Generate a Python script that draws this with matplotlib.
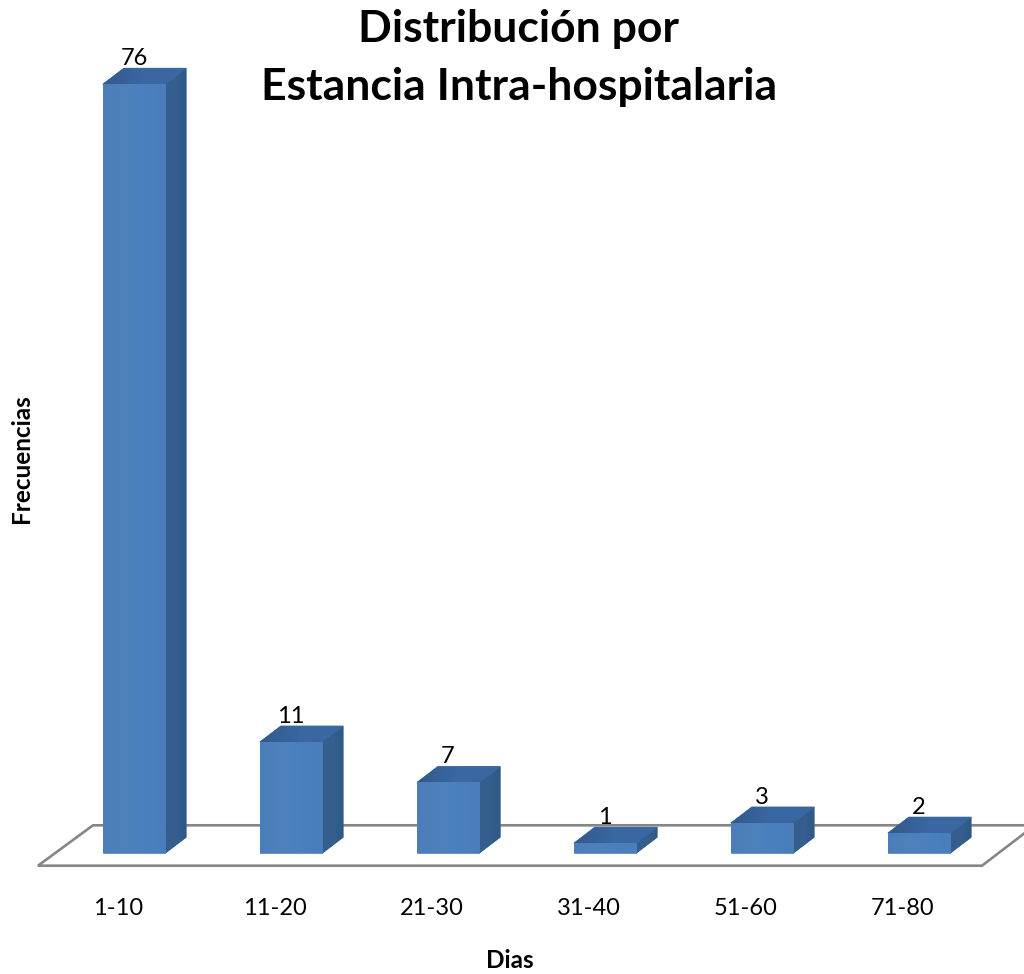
import numpy as np
import matplotlib
matplotlib.use("Agg")
import matplotlib.pyplot as plt
from matplotlib.patches import Polygon

plt.rcParams['font.family'] = ['Lato', 'DejaVu Sans']

categories = ["1-10", "11-20", "21-30", "31-40", "51-60", "71-80"]
values = [76, 11, 7, 1, 3, 2]

W, H = 1024, 974
x0_px, step_px = 134.0, 157.0     # centre of first bar, spacing between bars
base_px, unit_px = 853.3, 10.12   # baseline row, pixels per count

fig = plt.figure(figsize=(W/100, H/100), dpi=100, facecolor="white")
ax = fig.add_axes([0, 0, 1, 1])
ax.axis("off")

half = 31.2/step_px
dx = 21.0/step_px    # oblique depth of the boxes
dy = 16.0/unit_px

def px(x, y):
    return ((x - x0_px)/step_px, (base_px - y)/unit_px)

# floor of the chart
floor = [px(1030, 825.3), px(93, 825.3), px(38, 865.7), px(982, 865.7), px(1030, 829)]
ax.add_patch(Polygon(floor, closed=False, fill=False, ec="#868686", lw=1.9, zorder=1, joinstyle="miter"))

def shaded(poly, stops, zorder):
    # horizontal colour ramp clipped to a polygon, over a solid base to hide seams
    ax.add_patch(Polygon(poly, closed=True, fc=stops[1], ec=stops[1], lw=0.5, zorder=zorder))
    patch = Polygon(poly, closed=True, fc="none", ec="none", zorder=zorder)
    ax.add_patch(patch)
    cmap = matplotlib.colors.LinearSegmentedColormap.from_list("s", stops)
    xs = [p[0] for p in poly]
    ys = [p[1] for p in poly]
    im = ax.imshow(np.linspace(0, 1, 64).reshape(1, -1), cmap=cmap, aspect="auto",
                   extent=(min(xs), max(xs), min(ys), max(ys)), zorder=zorder,
                   interpolation="bilinear")
    im.set_clip_path(patch)

for i, v in enumerate(values):
    l, r = i - half, i + half
    front = [(l, 0), (r, 0), (r, v), (l, v)]
    side = [(r, 0), (r + dx, dy), (r + dx, v + dy), (r, v)]
    top = [(l, v), (r, v), (r + dx, v + dy), (l + dx, v + dy)]
    shaded(side, ["#335E8E", "#34608F", "#2F5885"], 3)
    shaded(top, ["#33598A", "#3A68A3", "#3A67A0"], 3)
    shaded(front, ["#4A7DBA", "#4F82BA", "#4B80BF", "#4A7DB9"], 4)
    ax.text(i, v + dy - 0.1, str(v), ha="center", va="bottom", fontsize=17, color="black", zorder=5)
    ax.text(i - 16.0/step_px, -55.0/unit_px, categories[i], ha="center", va="center", fontsize=17, color="black")

ax.text(*px(519, 29), "Distribución por", ha="center", va="center", fontsize=32, fontweight="bold")
ax.text(*px(519, 87), "Estancia Intra-hospitalaria", ha="center", va="center", fontsize=32, fontweight="bold")
ax.text(*px(510, 960), "Dias", ha="center", va="center", fontsize=17.5, fontweight="bold")
ax.text(*px(21, 459), "Frecuencias", ha="center", va="center", rotation=90, fontsize=17.5, fontweight="bold")

ax.set_xlim(-x0_px/step_px, (W - x0_px)/step_px)
ax.set_ylim((base_px - H)/unit_px, base_px/unit_px)
fig.savefig("out.png", dpi=100)
